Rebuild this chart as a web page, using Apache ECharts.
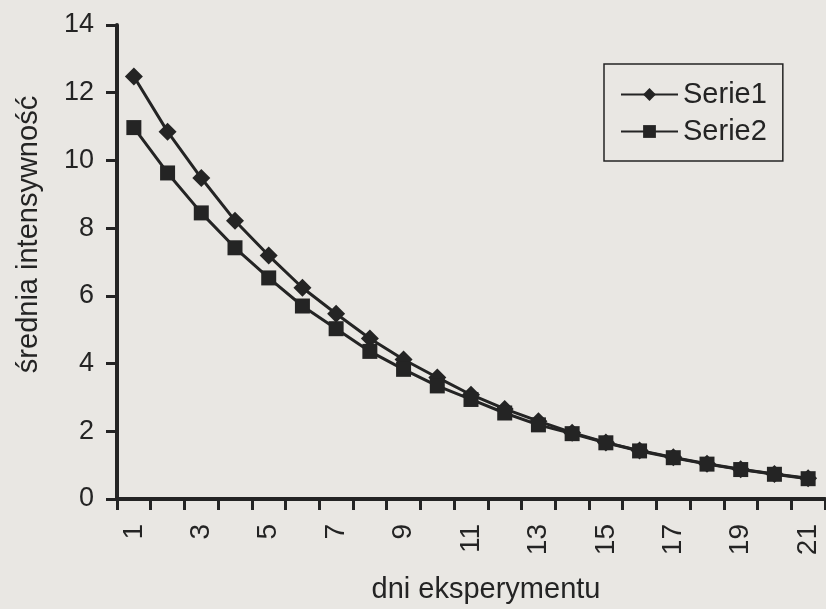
<!DOCTYPE html>
<html>
<head>
<meta charset="utf-8">
<script src="https://cdn.jsdelivr.net/npm/echarts@6/dist/echarts.min.js"></script>
<style>
html,body{margin:0;padding:0;background:#e9e7e3;}
#chart{width:826px;height:609px;}
</style>
</head>
<body>
<div id="chart"></div>
<script>
const categories = ['1','2','3','4','5','6','7','8','9','10','11','12','13','14','15','16','17','18','19','20','21'];
const serie1 = [12.48, 10.85, 9.48, 8.22, 7.19, 6.24, 5.47, 4.74, 4.12, 3.59, 3.08, 2.66, 2.30, 1.96, 1.67, 1.43, 1.23, 1.04, 0.88, 0.74, 0.61];
const serie2 = [10.97, 9.63, 8.45, 7.42, 6.53, 5.70, 5.03, 4.36, 3.83, 3.34, 2.94, 2.54, 2.19, 1.93, 1.66, 1.42, 1.22, 1.03, 0.87, 0.73, 0.60];
const yTicks = [0, 2, 4, 6, 8, 10, 12, 14];
const seriesNames = ['Serie1', 'Serie2'];
const xTitle = 'dni eksperymentu';
const yTitle = 'średnia intensywność';

const ink = '#242424';
const font = 'Liberation Sans, Arial, sans-serif';
const chart = echarts.init(document.getElementById('chart'));
chart.setOption({
  backgroundColor: '#e9e7e3',
  animation: false,
  grid: {left: 117, right: 1, top: 25, bottom: 109, containLabel: false},
  legend: {
    orient: 'vertical',
    left: 604, top: 64,
    padding: [16, 16, 15, 16],
    itemGap: 8,
    itemWidth: 57, itemHeight: 16,
    borderColor: ink, borderWidth: 1.5,
    textStyle: {fontFamily: font, fontSize: 29, color: ink},
    data: seriesNames
  },
  xAxis: {
    type: 'category',
    data: categories,
    boundaryGap: true,
    name: xTitle,
    nameLocation: 'middle',
    nameGap: 76,
    nameTextStyle: {fontFamily: font, fontSize: 29, color: ink, verticalAlign: 'top', padding: [0, 0, 0, 30]},
    axisLine: {lineStyle: {color: ink, width: 4}},
    axisTick: {show: true, alignWithLabel: false, interval: 0, length: 11, lineStyle: {color: ink, width: 3}},
    axisLabel: {interval: 1, rotate: 90, margin: 25, fontFamily: font, fontSize: 28, color: ink},
    splitLine: {show: false}
  },
  yAxis: {
    type: 'value',
    min: yTicks[0], max: yTicks[yTicks.length - 1], interval: 2,
    name: yTitle,
    nameLocation: 'middle',
    nameGap: 74,
    nameRotate: 90,
    nameTextStyle: {fontFamily: font, fontSize: 29, color: ink, padding: [0, 0, 0, 55]},
    axisLine: {show: true, lineStyle: {color: ink, width: 4}},
    axisTick: {show: true, length: 11, lineStyle: {color: ink, width: 3}},
    axisLabel: {margin: 23, fontFamily: font, fontSize: 27, color: ink},
    splitLine: {show: false}
  },
  series: [
    {
      name: seriesNames[0], type: 'line', data: serie1,
      symbol: 'diamond', symbolSize: 18, showSymbol: true,
      lineStyle: {color: ink, width: 3},
      itemStyle: {color: ink, borderWidth: 0}
    },
    {
      name: seriesNames[1], type: 'line', data: serie2,
      symbol: 'rect', symbolSize: 15, showSymbol: true,
      lineStyle: {color: ink, width: 3},
      itemStyle: {color: ink, borderWidth: 0}
    }
  ]
});
</script>
</body>
</html>
